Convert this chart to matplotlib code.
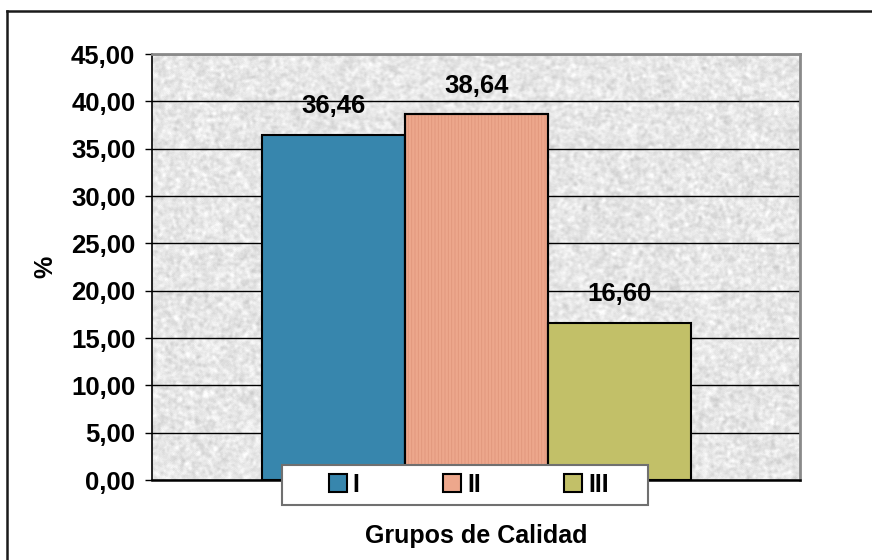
import numpy as np
import matplotlib
matplotlib.use("Agg")
from matplotlib import pyplot as plt
from matplotlib.patches import Rectangle
from matplotlib.lines import Line2D

# datos
grupos = ['I', 'II', 'III']
valores = [36.46, 38.64, 16.60]
colores = ['#3786ad', '#eda78c', '#c2c068']
etiquetas = ['36,46', '38,64', '16,60']
yticks = [0, 5, 10, 15, 20, 25, 30, 35, 40, 45]

plt.rcParams['font.family'] = ['Liberation Sans', 'DejaVu Sans']
plt.rcParams['font.weight'] = 'bold'
plt.rcParams['hatch.linewidth'] = 0.6

fig = plt.figure(figsize=(8.72, 5.6), dpi=100)
ax = fig.add_axes([152/872, 80/560, 648/872, 426/560])

# fondo tipo granito (solo decorativo)
rng = np.random.default_rng(7)
tex = rng.random((426, 648))
for _ in range(4):
    tex = (tex + np.roll(tex, 1, 0) + np.roll(tex, -1, 0) + np.roll(tex, 1, 1) + np.roll(tex, -1, 1)) / 5
tex = (tex - tex.mean()) / tex.std()
fino = rng.random((426, 648))
tex = 0.905 + 0.03 * tex + 0.025 * (fino - 0.5)
xl = (-1.27, 3.26)
ax.imshow(tex, cmap='gray', vmin=0, vmax=1, extent=(xl[0], xl[1], 0, 45),
          aspect='auto', zorder=0, interpolation='bilinear')

x = np.arange(len(grupos))
ax.bar(x, valores, width=1.0, color=colores, edgecolor='black',
       linewidth=1.5, zorder=3)
# rayado fino vertical de la barra II
ax.bar(x[1], valores[1], width=1.0, color='none', edgecolor='#e0967c',
       hatch='|||||', linewidth=0, zorder=3.1)
ax.bar(x[1], valores[1], width=1.0, color='none', edgecolor='black',
       linewidth=1.5, zorder=3.2)

for xi, v, t in zip(x, valores, etiquetas):
    ax.annotate(t, (xi, v), xytext=(0, 15.5), textcoords='offset points',
                ha='center', va='baseline', fontsize=18.5, fontweight='bold')

ax.set_xlim(*xl)
ax.set_ylim(0, 45)
ax.set_yticks(yticks)
ax.set_yticklabels([('%.2f' % t).replace('.', ',') for t in yticks])
ax.set_xticks([])
ax.tick_params(axis='y', length=5, width=1, pad=7, labelsize=18.5)
for t in ax.get_yticklabels():
    t.set_fontweight('bold')

ax.set_axisbelow(True)
ax.yaxis.grid(True, color='black', linewidth=1)
for lado in ['top', 'right']:
    ax.spines[lado].set_color('#8a8a8a')
    ax.spines[lado].set_linewidth(2)
ax.spines['left'].set_linewidth(1.2)
ax.spines['bottom'].set_linewidth(1.8)

ax.set_ylabel('%', fontsize=18, fontweight='bold', labelpad=10)
ax.set_xlabel('Grupos de Calidad', fontsize=18, fontweight='bold', labelpad=32)

# leyenda con caja propia
x0 = (282 - 152) / 648
ancho = (648 - 282) / 648
y0 = (480 - 505) / 426
alto = 40 / 426
ax.add_patch(Rectangle((x0, y0), ancho, alto, transform=ax.transAxes,
                       facecolor='white', edgecolor='#707070', linewidth=1.5,
                       clip_on=False, zorder=5))
handles = [Line2D([], [], marker='s', linestyle='none', markersize=12.5,
                  markerfacecolor=c, markeredgecolor='black', markeredgewidth=1.5)
           for c in colores]
leg = ax.legend(handles, grupos, ncol=3, loc='center',
                bbox_to_anchor=(x0 + ancho / 2 + 0.006, y0 + alto / 2),
                frameon=False, handlelength=0.7, handletextpad=0.25,
                columnspacing=3.35, prop={'weight': 'bold', 'size': 18})
leg.set_zorder(6)

# marco exterior
fig.add_artist(Line2D([7/872, 7/872], [0, 1 - 11/560], transform=fig.transFigure,
                      color='#1a1a1a', linewidth=1.8))
fig.add_artist(Line2D([7/872, 1], [1 - 11/560, 1 - 11/560], transform=fig.transFigure,
                      color='#1a1a1a', linewidth=1.8))

fig.savefig('out.png', dpi=100)
